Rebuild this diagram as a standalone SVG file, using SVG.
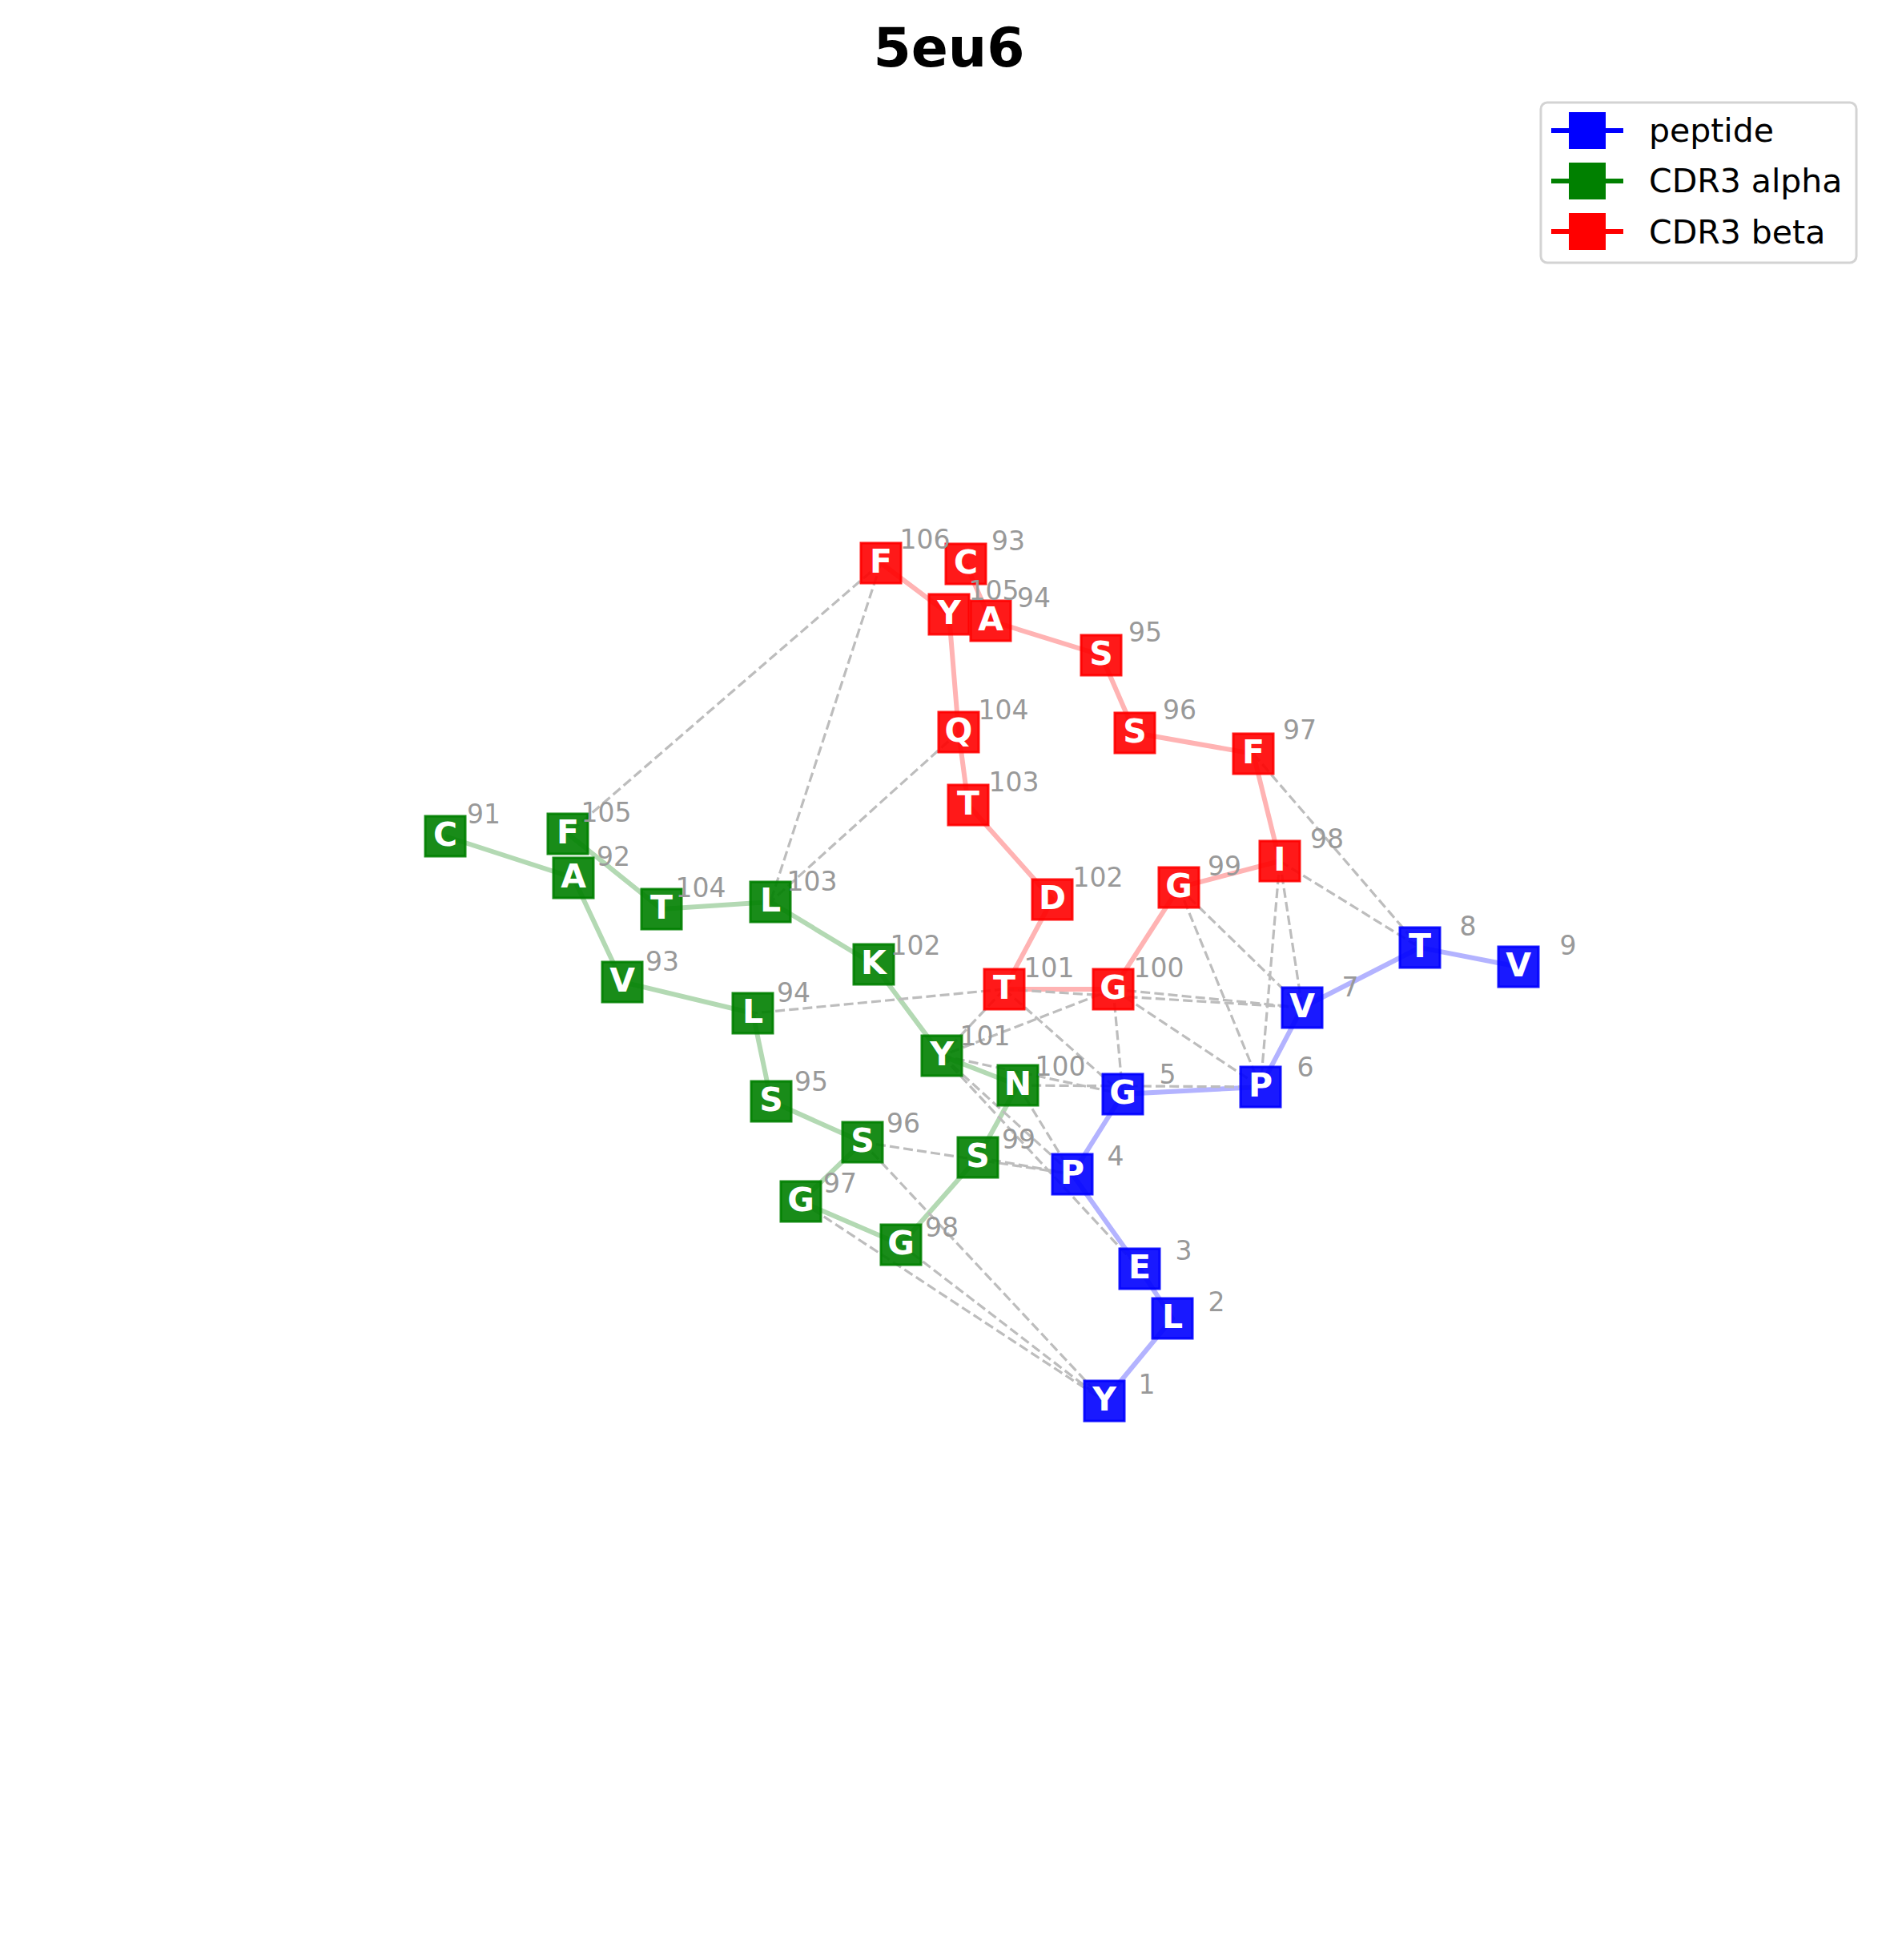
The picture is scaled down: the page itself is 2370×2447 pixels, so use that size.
<svg xmlns="http://www.w3.org/2000/svg" width="2370" height="2447" viewBox="0 0 2370 2447">
<style>
.bb{stroke-width:6;fill:none;stroke-linecap:butt}
.bp{stroke:#b3b3ff}.ba{stroke:#b3d9b3}.bb2{stroke:#ffb3b3}
.ct{stroke:#bdbdbd;stroke-width:3.2;stroke-dasharray:12 5.2;fill:none}
.n rect{stroke-width:3;fill-opacity:0.9;stroke-opacity:0.9}
.pep rect{fill:#0000ff;stroke:#0000ff}
.alp rect{fill:#008000;stroke:#008000}
.bet rect{fill:#ff0000;stroke:#ff0000}
.n text{font-family:"DejaVu Sans",sans-serif;font-weight:bold;font-size:41px;fill:#fff;text-anchor:middle}
.lb{font-family:"DejaVu Sans",sans-serif;font-size:33px;fill:#999;text-anchor:middle}
.lg{font-family:"DejaVu Sans",sans-serif;font-size:41px;fill:#000}
</style>
<rect width="2370" height="2447" fill="#fff"/>
<text x="1185" y="83" font-family="DejaVu Sans,sans-serif" font-weight="bold" font-size="68" text-anchor="middle">5eu6</text>

<g id="backbone">
<polyline class="bb bp" points="1379,1749 1464,1646 1423,1584 1339,1466 1402,1366 1574,1357 1626,1258 1773,1183 1896,1207"/>
<polyline class="bb ba" points="556,1044 716,1096 777,1226 940,1265 963,1375 1077,1426 1000,1500 1125,1554 1221,1445 1271,1355 1176,1318 1091,1204 962,1126 826,1135 709,1041"/>
<polyline class="bb bb2" points="1206,704 1237,775 1375,818 1417,915 1565,941 1598,1075 1472,1108 1390,1235 1254,1235 1314,1123 1209,1005 1197,914 1185,767 1100,703"/>
</g>

<g id="contacts">
<line class="ct" x1="1100" y1="703" x2="709" y2="1041"/>
<line class="ct" x1="1100" y1="703" x2="962" y2="1126"/>
<line class="ct" x1="1197" y1="914" x2="962" y2="1126"/>
<line class="ct" x1="1565" y1="941" x2="1773" y2="1183"/>
<line class="ct" x1="1598" y1="1075" x2="1773" y2="1183"/>
<line class="ct" x1="1598" y1="1075" x2="1626" y2="1258"/>
<line class="ct" x1="1598" y1="1075" x2="1574" y2="1357"/>
<line class="ct" x1="1472" y1="1108" x2="1626" y2="1258"/>
<line class="ct" x1="1472" y1="1108" x2="1574" y2="1357"/>
<line class="ct" x1="1390" y1="1235" x2="1626" y2="1258"/>
<line class="ct" x1="1254" y1="1235" x2="1626" y2="1258"/>
<line class="ct" x1="1390" y1="1235" x2="1574" y2="1357"/>
<line class="ct" x1="1390" y1="1235" x2="1402" y2="1366"/>
<line class="ct" x1="1254" y1="1235" x2="1402" y2="1366"/>
<line class="ct" x1="1254" y1="1235" x2="940" y2="1265"/>
<line class="ct" x1="1254" y1="1235" x2="1176" y2="1318"/>
<line class="ct" x1="1390" y1="1235" x2="1176" y2="1318"/>
<line class="ct" x1="1176" y1="1318" x2="1402" y2="1366"/>
<line class="ct" x1="1271" y1="1355" x2="1574" y2="1357"/>
<line class="ct" x1="1176" y1="1318" x2="1339" y2="1466"/>
<line class="ct" x1="1176" y1="1318" x2="1423" y2="1584"/>
<line class="ct" x1="1271" y1="1355" x2="1339" y2="1466"/>
<line class="ct" x1="1221" y1="1445" x2="1339" y2="1466"/>
<line class="ct" x1="1077" y1="1426" x2="1339" y2="1466"/>
<line class="ct" x1="1077" y1="1426" x2="1379" y2="1749"/>
<line class="ct" x1="1000" y1="1500" x2="1379" y2="1749"/>
<line class="ct" x1="1125" y1="1554" x2="1379" y2="1749"/>
</g>

<g id="peptide">
<g id="p1" class="n pep"><rect x="1354" y="1724" width="50" height="50"/><text x="1379" y="1761">Y</text></g>
<g id="p2" class="n pep"><rect x="1439" y="1621" width="50" height="50"/><text x="1464" y="1658">L</text></g>
<g id="p3" class="n pep"><rect x="1398" y="1559" width="50" height="50"/><text x="1423" y="1596">E</text></g>
<g id="p4" class="n pep"><rect x="1314" y="1441" width="50" height="50"/><text x="1339" y="1478">P</text></g>
<g id="p5" class="n pep"><rect x="1377" y="1341" width="50" height="50"/><text x="1402" y="1378">G</text></g>
<g id="p6" class="n pep"><rect x="1549" y="1332" width="50" height="50"/><text x="1574" y="1369">P</text></g>
<g id="p7" class="n pep"><rect x="1601" y="1233" width="50" height="50"/><text x="1626" y="1270">V</text></g>
<g id="p8" class="n pep"><rect x="1748" y="1158" width="50" height="50"/><text x="1773" y="1195">T</text></g>
<g id="p9" class="n pep"><rect x="1871" y="1182" width="50" height="50"/><text x="1896" y="1219">V</text></g>
</g>

<g id="alpha">
<g id="a91" class="n alp"><rect x="531" y="1019" width="50" height="50"/><text x="556" y="1056">C</text></g>
<g id="a92" class="n alp"><rect x="691" y="1071" width="50" height="50"/><text x="716" y="1108">A</text></g>
<g id="a93" class="n alp"><rect x="752" y="1201" width="50" height="50"/><text x="777" y="1238">V</text></g>
<g id="a94" class="n alp"><rect x="915" y="1240" width="50" height="50"/><text x="940" y="1277">L</text></g>
<g id="a95" class="n alp"><rect x="938" y="1350" width="50" height="50"/><text x="963" y="1387">S</text></g>
<g id="a96" class="n alp"><rect x="1052" y="1401" width="50" height="50"/><text x="1077" y="1438">S</text></g>
<g id="a97" class="n alp"><rect x="975" y="1475" width="50" height="50"/><text x="1000" y="1512">G</text></g>
<g id="a98" class="n alp"><rect x="1100" y="1529" width="50" height="50"/><text x="1125" y="1566">G</text></g>
<g id="a99" class="n alp"><rect x="1196" y="1420" width="50" height="50"/><text x="1221" y="1457">S</text></g>
<g id="a100" class="n alp"><rect x="1246" y="1330" width="50" height="50"/><text x="1271" y="1367">N</text></g>
<g id="a101" class="n alp"><rect x="1151" y="1293" width="50" height="50"/><text x="1176" y="1330">Y</text></g>
<g id="a102" class="n alp"><rect x="1066" y="1179" width="50" height="50"/><text x="1091" y="1216">K</text></g>
<g id="a103" class="n alp"><rect x="937" y="1101" width="50" height="50"/><text x="962" y="1138">L</text></g>
<g id="a104" class="n alp"><rect x="801" y="1110" width="50" height="50"/><text x="826" y="1147">T</text></g>
<g id="a105" class="n alp"><rect x="684" y="1016" width="50" height="50"/><text x="709" y="1053">F</text></g>
</g>

<g id="beta">
<g id="b93" class="n bet"><rect x="1181" y="679" width="50" height="50"/><text x="1206" y="716">C</text></g>
<g id="b94" class="n bet"><rect x="1212" y="750" width="50" height="50"/><text x="1237" y="787">A</text></g>
<g id="b95" class="n bet"><rect x="1350" y="793" width="50" height="50"/><text x="1375" y="830">S</text></g>
<g id="b96" class="n bet"><rect x="1392" y="890" width="50" height="50"/><text x="1417" y="927">S</text></g>
<g id="b97" class="n bet"><rect x="1540" y="916" width="50" height="50"/><text x="1565" y="953">F</text></g>
<g id="b98" class="n bet"><rect x="1573" y="1050" width="50" height="50"/><text x="1598" y="1087">I</text></g>
<g id="b99" class="n bet"><rect x="1447" y="1083" width="50" height="50"/><text x="1472" y="1120">G</text></g>
<g id="b100" class="n bet"><rect x="1365" y="1210" width="50" height="50"/><text x="1390" y="1247">G</text></g>
<g id="b101" class="n bet"><rect x="1229" y="1210" width="50" height="50"/><text x="1254" y="1247">T</text></g>
<g id="b102" class="n bet"><rect x="1289" y="1098" width="50" height="50"/><text x="1314" y="1135">D</text></g>
<g id="b103" class="n bet"><rect x="1184" y="980" width="50" height="50"/><text x="1209" y="1017">T</text></g>
<g id="b104" class="n bet"><rect x="1172" y="889" width="50" height="50"/><text x="1197" y="926">Q</text></g>
<g id="b105" class="n bet"><rect x="1160" y="742" width="50" height="50"/><text x="1185" y="779">Y</text></g>
<g id="b106" class="n bet"><rect x="1075" y="678" width="50" height="50"/><text x="1100" y="715">F</text></g>
</g>

<g id="labels" class="lb">
<text x="1432" y="1740">1</text>
<text x="1519" y="1637">2</text>
<text x="1478" y="1573">3</text>
<text x="1393" y="1455">4</text>
<text x="1458" y="1353">5</text>
<text x="1630" y="1344">6</text>
<text x="1686" y="1244">7</text>
<text x="1833" y="1168">8</text>
<text x="1958" y="1192">9</text>
<text x="604" y="1028">91</text>
<text x="766" y="1081">92</text>
<text x="827" y="1212">93</text>
<text x="991" y="1251">94</text>
<text x="1013" y="1362">95</text>
<text x="1128" y="1414">96</text>
<text x="1049" y="1489">97</text>
<text x="1176" y="1544">98</text>
<text x="1272" y="1434">99</text>
<text x="1324" y="1343">100</text>
<text x="1230" y="1305">101</text>
<text x="1143" y="1192">102</text>
<text x="1014" y="1112">103</text>
<text x="875" y="1120">104</text>
<text x="757" y="1026">105</text>
<text x="1259" y="687">93</text>
<text x="1291" y="758">94</text>
<text x="1430" y="801">95</text>
<text x="1473" y="898">96</text>
<text x="1623" y="923">97</text>
<text x="1657" y="1059">98</text>
<text x="1529" y="1093">99</text>
<text x="1447" y="1220">100</text>
<text x="1310" y="1220">101</text>
<text x="1371" y="1107">102</text>
<text x="1266" y="988">103</text>
<text x="1253" y="898">104</text>
<text x="1241" y="749">105</text>
<text x="1155" y="685">106</text>
</g>

<g id="legend">
<rect x="1924" y="128" width="394" height="200" rx="8" fill="#fff" stroke="#d3d3d3" stroke-width="3"/>
<line x1="1937" y1="163" x2="2027" y2="163" stroke="#0000ff" stroke-width="6"/>
<rect x="1959" y="140" width="46" height="46" fill="#0000ff"/>
<text class="lg" x="2059" y="177">peptide</text>
<line x1="1937" y1="226" x2="2027" y2="226" stroke="#008000" stroke-width="6"/>
<rect x="1959" y="203" width="46" height="46" fill="#008000"/>
<text class="lg" x="2059" y="240">CDR3 alpha</text>
<line x1="1937" y1="289" x2="2027" y2="289" stroke="#ff0000" stroke-width="6"/>
<rect x="1959" y="266" width="46" height="46" fill="#ff0000"/>
<text class="lg" x="2059" y="304">CDR3 beta</text>
</g>
</svg>
